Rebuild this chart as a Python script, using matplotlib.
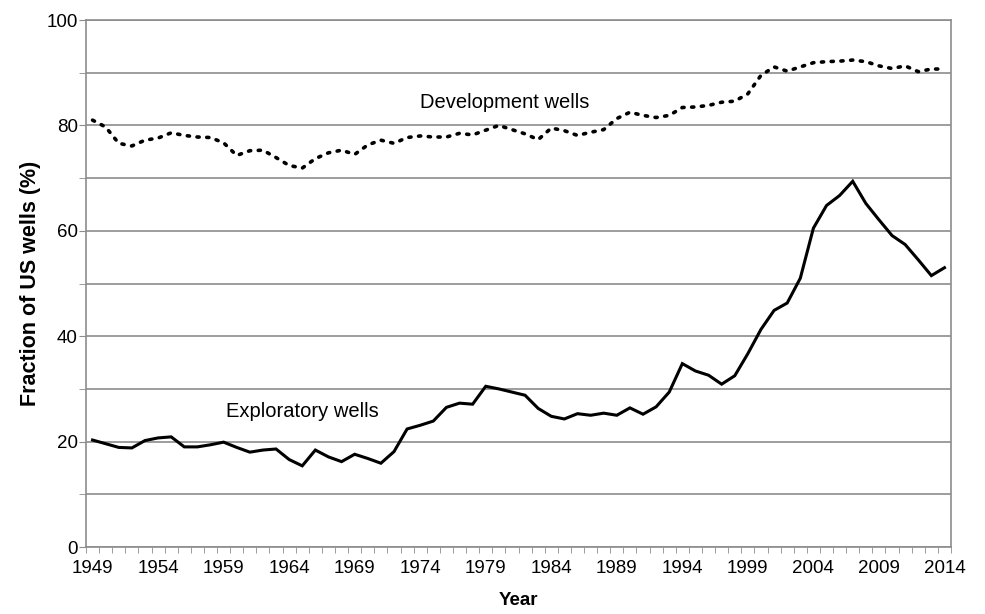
import matplotlib.pyplot as plt
from matplotlib.ticker import MultipleLocator

plt.rcParams['font.family'] = ['Liberation Sans', 'DejaVu Sans']

years = list(range(1949, 2015))

exploratory = [20.3, 19.6, 18.9, 18.8, 20.2, 20.7, 20.9, 19.0, 19.0, 19.4,
               19.9, 18.9, 18.0, 18.4, 18.6, 16.6, 15.4, 18.4, 17.1, 16.2,
               17.6, 16.8, 15.9, 18.1, 22.4, 23.1, 23.9, 26.5, 27.3, 27.1,
               30.5, 30.0, 29.4, 28.8, 26.3, 24.8, 24.3, 25.3, 25.0, 25.4,
               25.0, 26.4, 25.2, 26.6, 29.4, 34.8, 33.4, 32.6, 30.9, 32.5,
               36.7, 41.3, 44.9, 46.3, 51.0, 60.5, 64.8, 66.7, 69.4, 65.2,
               62.1, 59.1, 57.4, 54.5, 51.5, 53.0]

development = [81.0, 79.7, 76.6, 76.1, 77.2, 77.6, 78.6, 78.1, 77.8, 77.7,
               76.7, 74.3, 75.2, 75.3, 73.9, 72.4, 71.9, 73.7, 74.8, 75.3,
               74.5, 76.3, 77.2, 76.6, 77.7, 78.0, 77.8, 77.8, 78.5, 78.2,
               79.1, 80.0, 79.2, 78.4, 77.3, 79.5, 79.0, 78.1, 78.7, 79.2,
               81.3, 82.5, 81.9, 81.5, 81.9, 83.4, 83.5, 83.8, 84.4, 84.6,
               86.0, 89.5, 91.1, 90.3, 91.1, 91.9, 92.1, 92.2, 92.4, 92.1,
               91.3, 90.8, 91.3, 90.2, 90.7, 90.7]

label_years = list(range(1949, 2015, 5))

fig = plt.figure(figsize=(9.85, 6.14), dpi=100)
ax = fig.add_axes([0.0873, 0.1091, 0.8782, 0.8583])

grid_col = '#8c8c8c'
ax.set_ylim(0, 100)
ax.set_xlim(1948.5, 2014.5)
ax.yaxis.set_major_locator(MultipleLocator(20))
ax.yaxis.set_minor_locator(MultipleLocator(10))
ax.set_xticks(label_years)
ax.set_xticks([y + 0.5 for y in range(1948, 2015)], minor=True)
ax.grid(True, axis='y', which='both', color=grid_col, linewidth=1.2)
ax.set_axisbelow(True)
for s in ax.spines.values():
    s.set_color(grid_col)
    s.set_linewidth(1.2)

ax.tick_params(axis='y', which='both', length=5, color=grid_col, labelsize=13.5, pad=1)
ax.tick_params(axis='x', which='major', length=0, labelsize=13.5, pad=9)
ax.tick_params(axis='x', which='minor', length=4, color=grid_col)

ax.plot(years, exploratory, color='black', linewidth=2.2, solid_joinstyle='miter')
ax.plot(years, development, color='black', linewidth=2.6,
        linestyle=(0, (0.6, 2.1)), dash_capstyle='round')

ax.text(1974.0, 84.3, 'Development wells', fontsize=14.5, ha='left', va='center')
ax.text(1959.2, 25.8, 'Exploratory wells', fontsize=14.5, ha='left', va='center')

ax.set_xlabel('Year', fontsize=13.5, fontweight='bold', labelpad=11)
ax.set_ylabel('Fraction of US wells (%)', fontsize=15.5, fontweight='bold', labelpad=4)

fig.savefig('out.png', dpi=100)
